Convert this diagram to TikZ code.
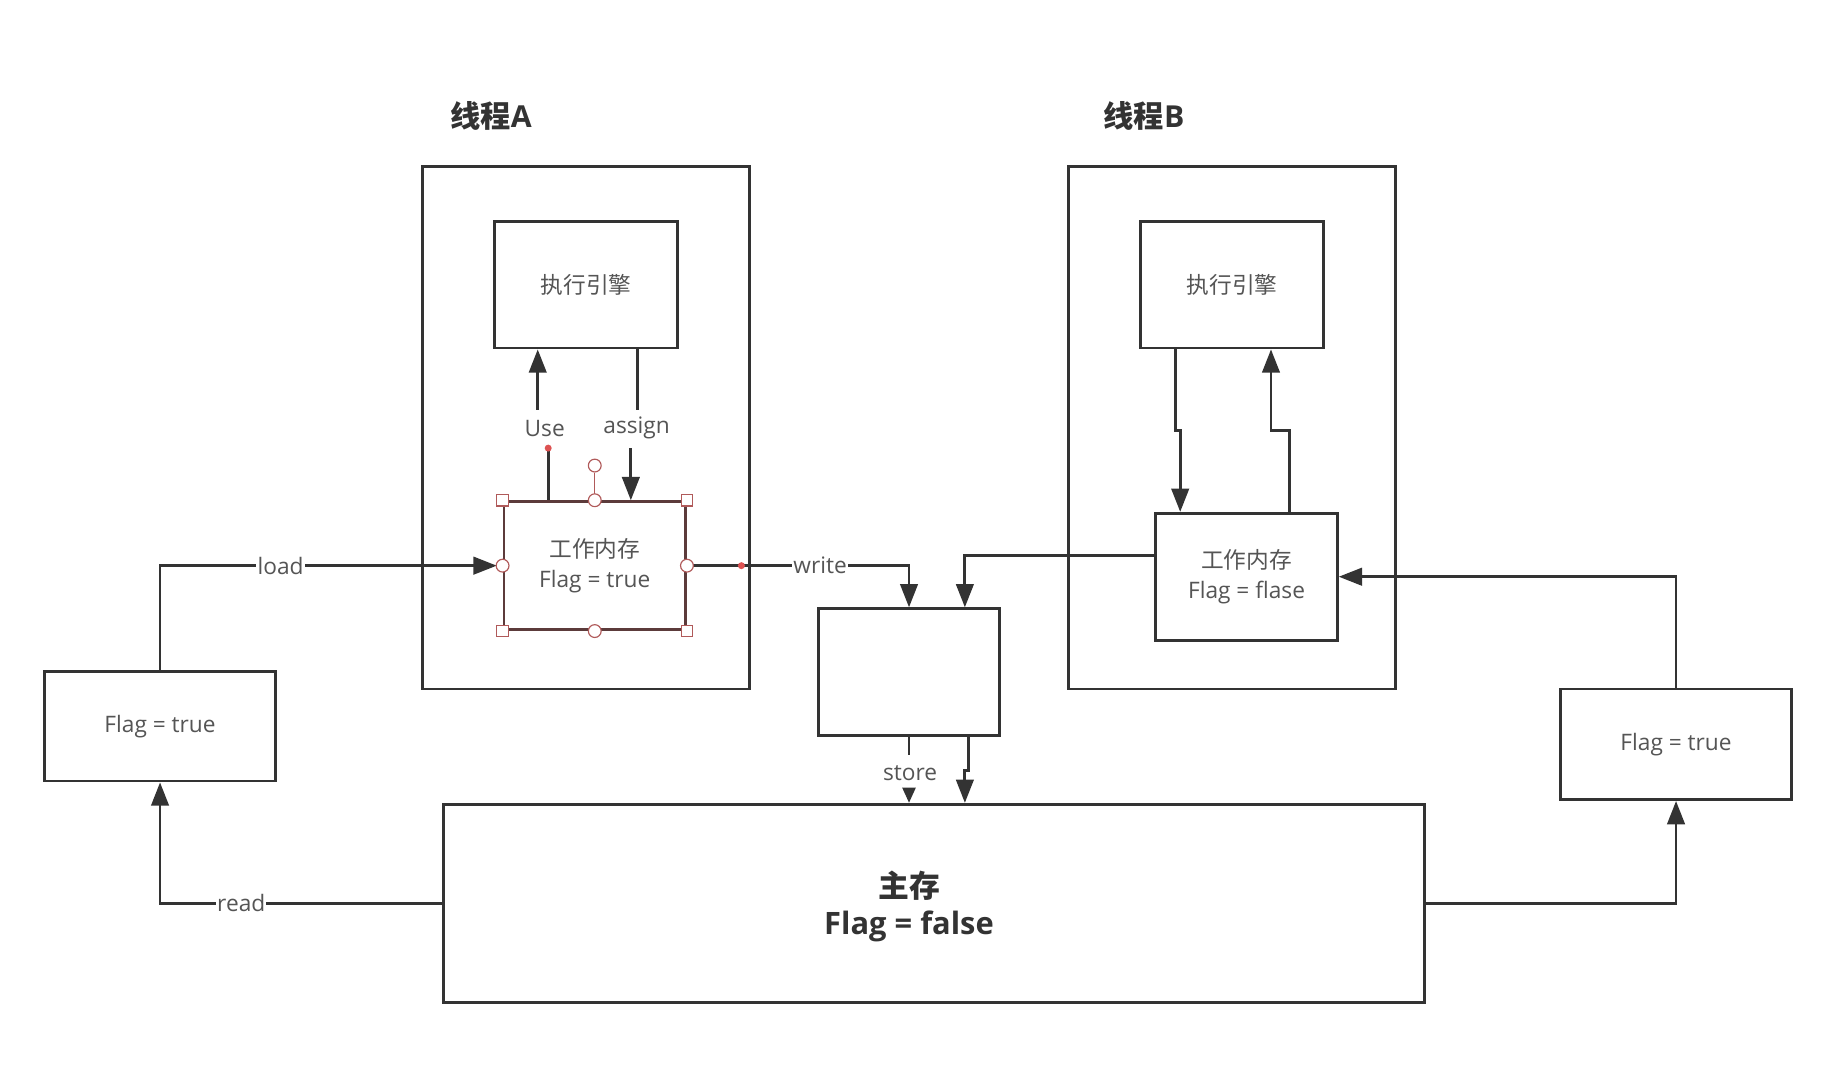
\documentclass[tikz,border=0pt]{standalone}
\usepackage{fontspec}
\setmainfont{Open Sans}
\newfontfamily\cjk{Noto Sans CJK SC}
\usetikzlibrary{arrows.meta}
\definecolor{ink}{HTML}{333333}
\definecolor{txt}{HTML}{555555}
\definecolor{selb}{HTML}{5C3B3B}
\definecolor{handle}{HTML}{B05A5A}
\definecolor{dotred}{HTML}{DD5252}
\begin{document}
\begin{tikzpicture}[x=1pt,y=-1pt,
  wire/.style={draw=ink,line width=2.4pt},
  arr/.style={wire,-{Triangle[length=20pt,width=15pt]}},
  sarr/.style={wire,-{Triangle[length=13pt,width=11pt]}},
  blk/.style={draw=ink,line width=2.4pt,fill=white,inner sep=0pt,text=txt,
    align=center,font=\fontsize{19.5}{26}\selectfont},
  lbl/.style={fill=white,inner sep=1pt,text=txt,font=\fontsize{19.5}{22}\selectfont},
  ttl/.style={text=ink,font=\fontsize{26}{30}\selectfont\bfseries},
  hsq/.style={draw=handle,fill=white,line width=1pt,minimum size=10pt,inner sep=0pt},
  hci/.style={draw=handle,fill=white,line width=1pt,circle,minimum size=11pt,inner sep=0pt},
  rdot/.style={fill=dotred,circle,minimum size=6pt,inner sep=0pt}]
\useasboundingbox (0,0) rectangle (1568,920);

% thread frames and titles
\node[blk,minimum width=281pt,minimum height=449pt] (tA) at (503.5,367.5) {};
\node[blk,minimum width=281pt,minimum height=449pt] (tB) at (1058.5,367.5) {};
\node[ttl] (tAt) at (422,100) {{\cjk\bfseries 线程}A};
\node[ttl] (tBt) at (983,100) {{\cjk\bfseries 线程}B};

% execution engines
\node[blk,minimum width=157pt,minimum height=109pt] (exA) at (503.5,244.5) {\cjk 执行引擎};
\node[blk,minimum width=157pt,minimum height=109pt] (exB) at (1058.5,244.5) {\cjk 执行引擎};

% working memories
\node[blk,draw=selb,minimum width=156pt,minimum height=110pt] (wmA) at (511,486) {{\cjk 工作内存}\\Flag = true};
\node[blk,minimum width=156pt,minimum height=109pt] (wmB) at (1071,495.5) {{\cjk 工作内存}\\Flag = flase};

% intermediate box, main memory, copies of the flag
\node[blk,minimum width=156pt,minimum height=109pt] (buf) at (781,577.5) {};
\node[blk,minimum width=843pt,minimum height=170pt] (mem) at (802.5,776) {};
\node[text=ink,align=center,font=\fontsize{26.5}{32}\selectfont\bfseries] (memT) at (781,779)
  {{\cjk\bfseries 主存}\\Flag = false};
\node[blk,minimum width=199pt,minimum height=94pt] (fl) at (137.5,624) {Flag = true};
\node[blk,minimum width=198pt,minimum height=95pt] (fr) at (1440,639.5) {Flag = true};

% thread A: use / assign
\coordinate (useLo) at (462,352);
\coordinate (useDot) at (471,385);
\coordinate (asgHi) at (548,352);
\coordinate (asgLo) at (542,385);
\draw[arr] (useLo) -- (useLo |- exA.south);
\draw[wire] (useDot) -- (useDot |- wmA.north);
\draw[wire] (asgHi |- exA.south) -- (asgHi);
\draw[arr] (asgLo) -- (asgLo |- wmA.north);
\node[lbl] (useL) at (468,368) {Use};
\node[lbl] (asgL) at (547,368) {assign};

% load / write / read
\draw[arr,shorten >=5pt] (fl.north) |- node[lbl,pos=0.676] (loadL) {load} (wmA.west);
\draw[arr] (wmA.east) -| node[lbl,pos=0.3] (writeL) {write} (buf.north);
\draw[arr] (mem.west) -| node[lbl,pos=0.356] (readL) {read} (fl.south);

% thread B
\coordinate (bd1) at (1010,370);
\coordinate (bd2) at (1014,370);
\coordinate (bu1) at (1108,370);
\coordinate (bu2) at (1092,370);
\draw[arr] (bd1 |- exB.south) -- (bd1) -- (bd2) -- (bd2 |- wmB.north);
\draw[arr] (bu1 |- wmB.north) -- (bu1) -- (bu2) -- (bu2 |- exB.south);
\draw[arr] ([yshift=18.5pt]wmB.west) -| ([xshift=48pt]buf.north);
\draw[arr] (mem.east) -| (fr.south);
\draw[arr] (fr.north) |- (wmB.east);

% store
\coordinate (stA) at (781,649);
\coordinate (stB) at (781,677);
\coordinate (j1) at (832,662);
\coordinate (j2) at (829,662);
\draw[wire] (buf.south) -- (stA);
\draw[sarr] (stB) -- (stB |- mem.north);
\node[lbl] (stL) at (782,664) {store};
\draw[arr] ([xshift=51pt]buf.south) -- (j1) -- (j2) -- (j2 |- mem.north);

% selection handles on the working memory of thread A
\node[hci] (rot) at (511,400) {};
\draw[draw=handle,line width=1pt] (rot.south) -- (wmA.north);
\node[hsq] (h1) at (wmA.north west) {};
\node[hsq] (h2) at (wmA.north east) {};
\node[hsq] (h3) at (wmA.south west) {};
\node[hsq] (h4) at (wmA.south east) {};
\node[hci] (h5) at (wmA.north) {};
\node[hci] (h6) at (wmA.south) {};
\node[hci] (h7) at (wmA.west) {};
\node[hci] (h8) at (wmA.east) {};
\node[rdot] (d1) at (useDot) {};
\node[rdot] (d2) at (637,486) {};
\end{tikzpicture}
\end{document}
